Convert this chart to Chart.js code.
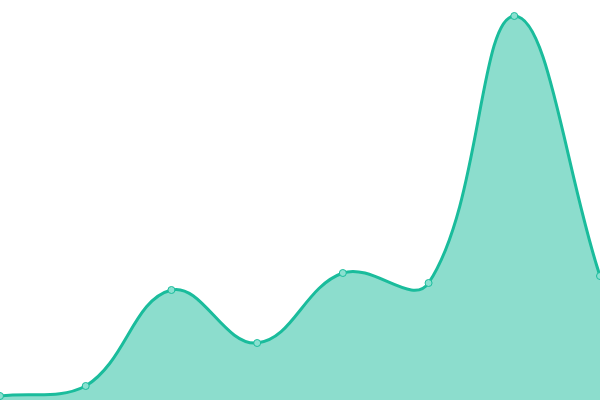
<!DOCTYPE html>
<html>
<head>
<meta charset="utf-8">
<script src="https://cdn.jsdelivr.net/npm/chart.js@4"></script>
<style>
  html, body { margin: 0; padding: 0; background: #fff; }
  #grafico { display: block; }
</style>
</head>
<body>
<canvas id="grafico" width="600" height="400"></canvas>
<script>
const etiquetas = ['1', '2', '3', '4', '5', '6', '7', '8'] // categorias (no se ven)
const valores = [1, 3.5, 27.5, 14.25, 31.75, 29.25, 96, 31] // valores
const yMin = 0
const yMax = 100

new Chart(document.getElementById('grafico'), {
  type: 'line',
  data: {
    labels: etiquetas,
    datasets: [{
      data: valores,
      fill: true,
      tension: 0.4,
      borderColor: '#1abc9c',
      backgroundColor: 'rgba(26,188,156,0.5)',
      borderWidth: 3,
      pointRadius: 3.5,
      pointBorderWidth: 1,
      pointBackgroundColor: 'rgba(138,224,208,1)',
      pointBorderColor: '#1abc9c'
    }]
  },
  options: {
    responsive: false,
    animation: false,
    layout: { padding: 0, autoPadding: false }, // sin margen, de borde a borde
    plugins: { legend: { display: false }, tooltip: { enabled: false } },
    scales: {
      x: { display: false, offset: false },
      y: { display: false, min: yMin, max: yMax }
    }
  }
})
</script>
</body>
</html>
